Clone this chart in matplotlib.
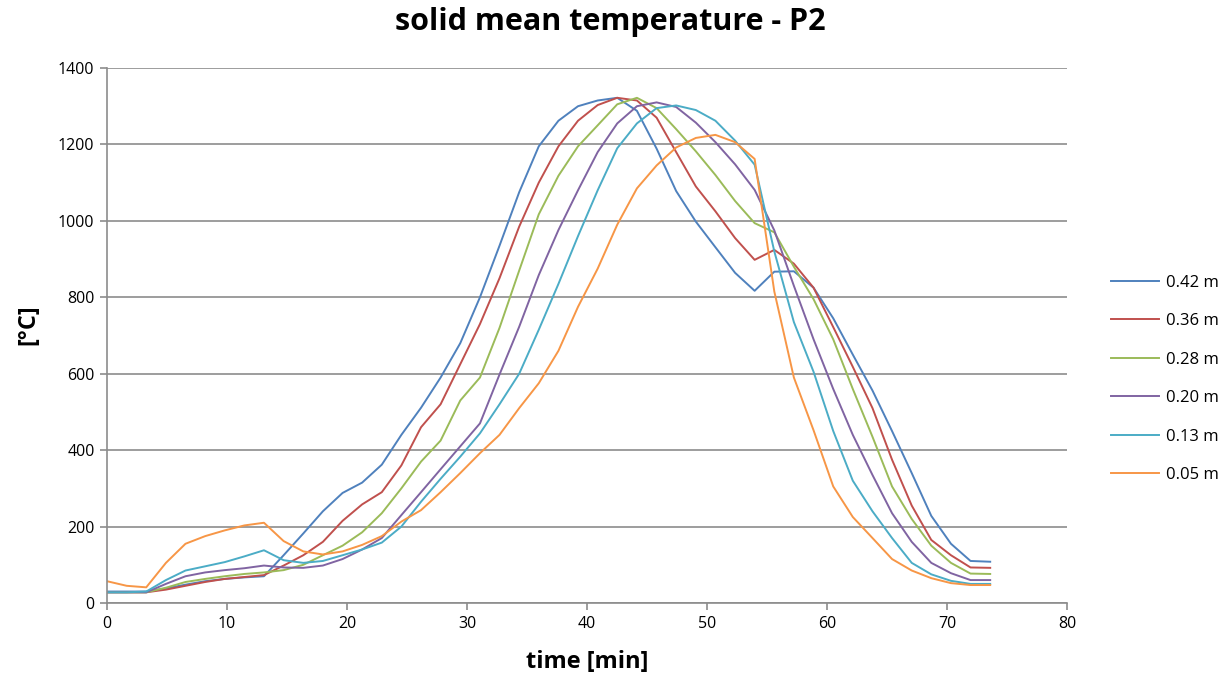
import numpy as np
import matplotlib
matplotlib.use("Agg")
import matplotlib.pyplot as plt

# time axis [min]
step = 73.6 / 45
time_min = [round(k * step, 2) for k in range(46)]

s042 = [30, 30, 30, 38, 48, 57, 63, 67, 70, 125, 182, 240, 288, 315, 362, 440, 511, 590, 680, 800,
        935, 1075, 1195, 1262, 1300, 1315, 1322, 1288, 1189, 1078, 998, 931, 864, 817, 867, 868,
        825, 745, 650, 556, 450, 340, 228, 155, 110, 108]
s036 = [28, 28, 28, 35, 45, 55, 63, 68, 73, 98, 125, 160, 215, 258, 290, 360, 460, 520, 625, 730,
        850, 985, 1100, 1195, 1262, 1303, 1322, 1315, 1270, 1180, 1090, 1025, 955, 898, 924, 888,
        825, 722, 618, 510, 375, 255, 165, 125, 93, 92]
s028 = [28, 28, 28, 40, 55, 63, 70, 76, 80, 86, 100, 125, 150, 185, 235, 300, 370, 425, 530, 590,
        720, 870, 1017, 1118, 1195, 1250, 1305, 1322, 1295, 1240, 1182, 1120, 1052, 994, 970, 880,
        795, 690, 560, 435, 305, 220, 150, 105, 77, 76]
s020 = [28, 28, 28, 50, 70, 80, 86, 91, 98, 93, 92, 98, 115, 140, 170, 230, 290, 350, 410, 470,
        598, 723, 858, 976, 1080, 1180, 1255, 1300, 1310, 1298, 1257, 1206, 1148, 1081, 975, 830,
        690, 560, 440, 335, 235, 160, 105, 78, 60, 60]
s013 = [28, 28, 30, 60, 85, 96, 107, 122, 138, 112, 105, 110, 125, 140, 158, 200, 265, 325, 383, 444,
        520, 600, 715, 835, 960, 1080, 1190, 1255, 1295, 1302, 1290, 1262, 1210, 1147, 920, 735,
        605, 450, 320, 240, 170, 105, 75, 58, 50, 50]
s005 = [57, 45, 41, 105, 155, 175, 190, 203, 210, 162, 135, 127, 135, 152, 175, 213, 243, 290, 340, 392,
        440, 510, 575, 660, 775, 875, 990, 1085, 1145, 1192, 1217, 1225, 1206, 1162, 815, 590,
        452, 305, 225, 170, 115, 85, 65, 52, 47, 47]

labels = ["0.42 m", "0.36 m", "0.28 m", "0.20 m", "0.13 m", "0.05 m"]
series = [s042, s036, s028, s020, s013, s005]
colors = ["#4F81BD", "#C0504D", "#9BBB59", "#8064A2", "#4BACC6", "#F79646"]

plt.rcParams['font.family'] = ['Open Sans', 'DejaVu Sans']

fig = plt.figure(figsize=(12.2, 6.84), dpi=100)
ax = fig.add_axes([107/1220, 1 - 603/684, 960/1220, 535/684])

for ys, lab, c in zip(series, labels, colors):
    ax.plot(time_min, ys, color=c, lw=1.4, label=lab)

ax.set_xlim(0, 80)
ax.set_ylim(0, 1400)
ax.set_xticks(range(0, 81, 10))
ax.set_yticks(range(0, 1401, 200))
ax.yaxis.grid(True, color="#8C8C8C", lw=1.2)
ax.set_axisbelow(True)
for sp in ["top", "right"]:
    ax.spines[sp].set_visible(False)
for sp in ["left", "bottom"]:
    ax.spines[sp].set_color("#8C8C8C")
    ax.spines[sp].set_linewidth(1.2)
ax.tick_params(axis="both", direction="out", color="#8C8C8C", length=5, width=1.2,
               labelsize=11.5, labelcolor="#000000", pad=4)

ax.set_xlabel("time [min]", fontsize=17, fontweight="bold")
ax.xaxis.set_label_coords(0.5, (603 - 650) / 535)
ax.set_ylabel("[°C]", fontsize=17, fontweight="bold")
ax.yaxis.set_label_coords((40 - 107) / 960, (603 - 325) / 535)
fig.text(610/1220, 1 - 22/684, "solid mean temperature - P2", ha="center", va="center",
         fontsize=22, fontweight="bold")

leg = ax.legend(loc="center left", bbox_to_anchor=(1.03, (603 - 379) / 535), frameon=False,
                fontsize=12, handlelength=2.9, labelspacing=1.35, handletextpad=0.4)

fig.savefig("out.png", dpi=100)
